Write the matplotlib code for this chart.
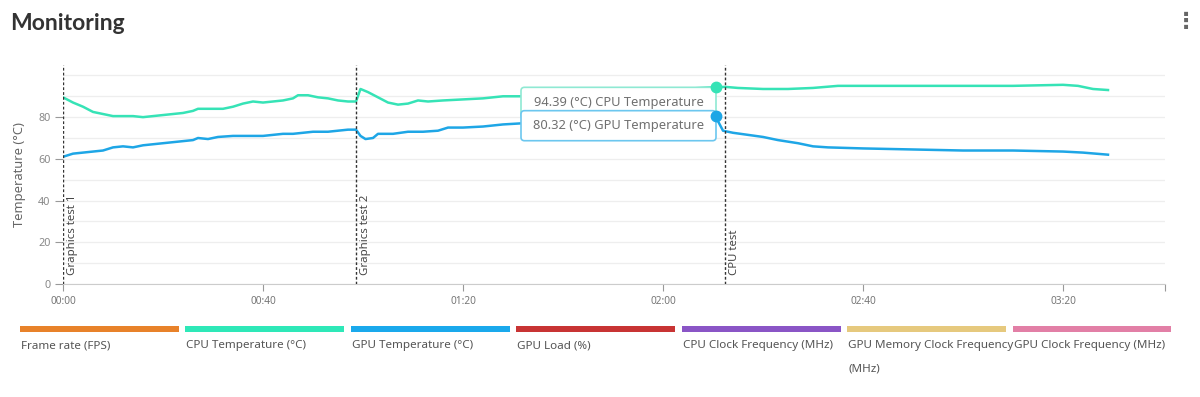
import matplotlib.pyplot as plt
from matplotlib.patches import FancyBboxPatch, Rectangle

# time in seconds, temperatures in deg C
cpu_t = [0, 2, 4, 6, 8, 10, 12, 14, 16, 18, 20, 22, 24, 26, 27, 30, 32, 34, 36, 38,
         40, 42, 44, 46, 47, 49, 51, 53, 55, 57, 58.6, 59.5, 61, 63, 65, 67, 69, 71,
         73, 76, 80, 84, 88, 91.5, 100, 110, 120, 130.5, 132.5, 135, 140, 145, 150,
         155, 160, 170, 180, 190, 200, 203, 206, 209]
cpu_temp = [89.5, 87, 85, 82.5, 81.5, 80.5, 80.5, 80.5, 80, 80.5, 81, 81.5, 82, 83, 84,
            84, 84, 85, 86.5, 87.5, 87, 87.5, 88, 89, 90.5, 90.5, 89.5, 89, 88, 87.5,
            87.5, 93.5, 92, 89.5, 87, 86, 86.5, 88, 87.5, 88, 88.5, 89, 90, 90, 91, 92,
            93, 94.39, 94.5, 94, 93.5, 93.5, 94, 95, 95, 95, 95, 95, 95.5, 95, 93.5, 93]

gpu_t = [0, 2, 4, 6, 8, 10, 12, 14, 16, 18, 20, 22, 24, 26, 27, 29, 31, 34, 38, 40,
         42, 44, 46, 48, 50, 53, 55, 57, 58.6, 59.5, 60.5, 62, 63, 66, 69, 72, 75, 77,
         80, 84, 88, 91.5, 100, 115, 130.5, 132, 134, 137, 140, 143, 147, 150, 153,
         160, 170, 180, 190, 200, 204, 209]
gpu_temp = [61, 62.5, 63, 63.5, 64, 65.5, 66, 65.5, 66.5, 67, 67.5, 68, 68.5, 69, 70,
            69.5, 70.5, 71, 71, 71, 71.5, 72, 72, 72.5, 73, 73, 73.5, 74, 74, 71, 69.5,
            70, 72, 72, 73, 73, 73.5, 75, 75, 75.5, 76.5, 77, 78, 79, 80.32, 73.5, 72.5,
            71.5, 70.5, 69, 67.5, 66, 65.5, 65, 64.5, 64, 64, 63.5, 63, 62]

events_t = [0, 58.6, 132.4]
events = ['Graphics test 1', 'Graphics test 2', 'CPU test']

hover_t = 130.5
hover_cpu = 94.39
hover_gpu = 80.32

xticks = [0, 40, 80, 120, 160, 200]
xticklabels = ['00:00', '00:40', '01:20', '02:00', '02:40', '03:20']
yticks = [0, 20, 40, 60, 80]

legend_labels = ['Frame rate (FPS)', 'CPU Temperature (°C)', 'GPU Temperature (°C)',
                 'GPU Load (%)', 'CPU Clock Frequency (MHz)',
                 'GPU Memory Clock Frequency\n(MHz)', 'GPU Clock Frequency (MHz)']
legend_colors = ['#e8822a', '#2ee8b8', '#1aa9ec', '#c83434', '#8a55c6', '#e6c97e', '#e27fa6']

cpu_color = '#36e3b6'
gpu_color = '#1ea6e6'

plt.rcParams['font.family'] = ['Noto Sans', 'DejaVu Sans']

W, H = 1200, 397
fig = plt.figure(figsize=(W / 100, H / 100), dpi=100)
ax = fig.add_axes([63 / W, 1 - 284 / H, (1165 - 63) / W, (284 - 65) / H])

ax.plot(cpu_t, cpu_temp, color=cpu_color, lw=1.8, zorder=3)
ax.plot(gpu_t, gpu_temp, color=gpu_color, lw=1.8, zorder=3)

for t, name in zip(events_t, events):
    ax.axvline(t, color='#333333', lw=1, ls=(0, (2, 1.5)), zorder=4)
    ax.text(t + 1.9, 4.3, name, rotation=90, ha='center', va='bottom',
            fontsize=8.2, color='#444444', zorder=4)

# hover tooltip
aspect = (105 / 219) / (220.4 / 1102)
tip_x0, tip_x1 = 91.6, hover_t + 0.1
cpu_box = FancyBboxPatch((tip_x0, 79.5), tip_x1 - tip_x0, 94.3 - 79.5,
                         boxstyle='round,pad=0,rounding_size=0.7', mutation_aspect=aspect,
                         fc='white', ec='#8fe9d3', lw=1.2, zorder=5)
gpu_box = FancyBboxPatch((tip_x0, 68.7), tip_x1 - tip_x0, 83.1 - 68.7,
                         boxstyle='round,pad=0,rounding_size=0.7', mutation_aspect=aspect,
                         fc='white', ec='#6cc7ef', lw=1.2, zorder=6)
ax.add_patch(cpu_box)
ax.add_patch(gpu_box)
ax.text((tip_x0 + tip_x1) / 2, 86.8, f'{hover_cpu:.2f} (°C) CPU Temperature',
        ha='center', va='center', fontsize=9.3, color='#707070', zorder=7)
ax.text((tip_x0 + tip_x1) / 2, 75.8, f'{hover_gpu:.2f} (°C) GPU Temperature',
        ha='center', va='center', fontsize=9.3, color='#707070', zorder=7)
ax.plot([hover_t], [hover_cpu], 'o', color=cpu_color, ms=7.5, zorder=8)
ax.plot([hover_t], [hover_gpu], 'o', color=gpu_color, ms=7.5, zorder=8)

ax.set_xlim(0, 220.4)
ax.set_ylim(0, 105)
ax.set_xticks(xticks + [220.4])
ax.set_xticklabels(xticklabels + [''])
ax.set_yticks(yticks)
ax.set_yticks(range(0, 101, 10), minor=True)
ax.grid(which='both', axis='y', color='#eeeeee', lw=0.9, zorder=0)
ax.tick_params(axis='x', length=5, color='#999999', labelsize=7.3, labelcolor='#777777', pad=4)
ax.tick_params(axis='y', length=6, color='#999999', labelsize=7.8, labelcolor='#888888', pad=3)
ax.tick_params(axis='y', which='minor', length=0)
for s in ['top', 'right', 'left']:
    ax.spines[s].set_visible(False)
ax.spines['bottom'].set_color('#cccccc')
ax.set_ylabel('Temperature (°C)', fontsize=9.3, color='#666666', labelpad=9)

fig.text(10 / W, 1 - 23 / H, 'Monitoring', fontsize=16.5, fontweight='bold',
         family=['Lato', 'DejaVu Sans'], color='#333333', va='center')
fig.text(1186 / W, 1 - 22 / H, '⋮', fontsize=16, fontweight='bold',
         family='DejaVu Sans', color='#666666', ha='center', va='center')

# legend strip
slot = (1178 - 20) / len(legend_labels)
for i, (lab, col) in enumerate(zip(legend_labels, legend_colors)):
    x0 = 20 + i * slot
    fig.add_artist(Rectangle((x0 / W, 1 - 332 / H), (slot - 6.5) / W, 6 / H,
                             transform=fig.transFigure, fc=col, ec='none'))
    fig.text((x0 + 1) / W, 1 - 340 / H, lab, fontsize=8.4, color='#555555',
             va='top', ha='left', linespacing=2.55)

fig.savefig('out.png', dpi=100)
